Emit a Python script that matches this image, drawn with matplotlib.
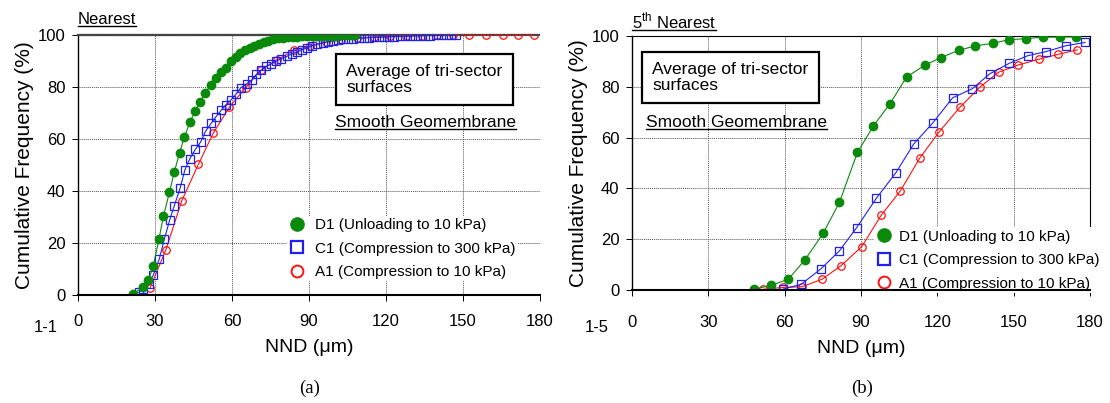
import matplotlib.pyplot as plt
from matplotlib.lines import Line2D

plt.rcParams['font.family'] = ['Liberation Sans', 'DejaVu Sans']
plt.rcParams['mathtext.fontset'] = 'custom'
plt.rcParams['mathtext.rm'] = 'Liberation Sans'

GREEN = '#0a8a0a'
BLUE = '#2020ee'
RED = '#ff1010'

# ---- panel (a): nearest neighbour distance ----
d1a_x = [21.3, 25.2, 27.4, 29.3, 31.5, 33.3, 35.6, 37.5, 39.6, 41.4, 43.6, 45.7, 47.6, 49.5, 51.7,
         53.6, 55.6, 57.5, 59.5, 61.4, 63.3, 65.2, 67.0, 68.7, 70.5, 72.3, 74.1, 76.0, 77.9, 79.8,
         81.7, 83.6, 85.5, 87.4, 89.3, 91.2, 93.1, 95.0, 96.9, 98.8, 100.7, 102.6, 104.5, 106.4, 108.0]
d1a_y = [0.4, 2.9, 5.6, 11.1, 21.4, 30.4, 39.5, 47.3, 54.8, 60.7, 66.5, 70.8, 74.4, 77.6, 80.9,
         83.5, 85.9, 87.2, 89.9, 91.6, 93.1, 94.1, 95.0, 95.7, 96.5, 97.2, 97.8, 98.4, 98.8, 99.0,
         99.2, 99.3, 99.4, 99.5, 99.5, 99.6, 99.6, 99.7, 99.7, 99.8, 99.8, 99.9, 99.9, 100.0, 100.0]

c1a_x = [23.6, 25.5, 27.5, 29.4, 31.7, 33.6, 35.7, 37.5, 39.8, 41.6, 43.6, 45.7, 47.8, 49.7, 52.0,
         53.7, 55.8, 57.6, 59.7, 61.5, 63.5, 65.7, 67.6, 69.5, 71.3, 73.2, 75.0, 77.1, 79.2, 81.3,
         83.4, 85.2, 87.3, 89.4, 91.1, 93.2, 95.3, 97.3, 99.4, 101.3, 103.3, 105.3, 107.3, 109.3, 111.3,
         113.3, 115.3, 117.3, 119.3, 121.3, 123.3, 125.3, 127.3, 129.3, 131.3, 133.3, 135.3, 137.3, 139.3, 141.3,
         143.3, 145.3, 147.3]
c1a_y = [1.0, 2.2, 4.4, 7.8, 14.0, 21.4, 28.8, 34.3, 41.2, 48.0, 52.5, 56.0, 58.9, 63.0, 66.2,
         68.5, 71.1, 73.2, 75.2, 77.2, 79.8, 81.3, 82.6, 84.9, 86.4, 88.0, 88.7, 89.9, 90.9, 91.8,
         92.8, 93.5, 94.4, 95.1, 95.8, 96.5, 97.0, 97.4, 97.8, 98.0, 98.3, 98.5, 98.6, 98.8, 98.9,
         99.0, 99.1, 99.2, 99.2, 99.3, 99.4, 99.5, 99.5, 99.6, 99.7, 99.7, 99.8, 99.8, 99.9, 99.9,
         100.0, 100.0, 100.0]

a1a_x = [28.0, 34.2, 40.4, 46.9, 52.7, 59.0, 65.3, 71.1, 77.5, 84.1, 90.4, 96.7, 102.6, 108.8, 115.2,
         121.5, 127.8, 133.9, 139.9, 146.2, 152.4, 159.0, 165.4, 171.5, 177.5]
a1a_y = [2.6, 17.3, 36.2, 50.3, 62.3, 72.3, 79.8, 86.4, 90.5, 94.1, 95.8, 97.3, 98.2, 98.8, 99.2,
         99.5, 99.7, 99.8, 99.9, 99.95, 100.0, 100.0, 100.0, 100.0, 100.0]

# ---- panel (b): 5th nearest ----
d1b_x = [48.0, 54.5, 61.4, 67.9, 75.1, 81.5, 88.6, 94.9, 101.4, 107.9, 115.0, 121.3, 128.4, 134.7, 141.8,
         148.3, 154.7, 161.7, 168.1, 174.4]
d1b_y = [0.3, 1.8, 4.2, 11.8, 22.3, 34.5, 54.2, 64.7, 73.4, 83.9, 88.5, 91.5, 94.4, 96.1, 97.2,
         98.6, 99.0, 99.6, 99.6, 99.7]

c1b_x = [59.2, 66.4, 74.2, 81.5, 88.3, 96.0, 103.7, 110.7, 118.2, 126.0, 133.8, 140.5, 148.3, 155.6, 162.7,
         170.5, 178.0]
c1b_y = [0.3, 2.2, 8.3, 15.4, 24.6, 36.1, 46.2, 57.5, 65.8, 75.7, 79.3, 85.1, 89.3, 92.3, 93.9,
         96.2, 97.5]

a1b_x = [51.6, 59.2, 66.9, 74.6, 82.2, 90.3, 97.9, 105.5, 113.1, 120.8, 128.8, 136.6, 144.1, 151.7, 159.9,
         167.4, 175.0]
a1b_y = [0.3, 1.0, 1.3, 4.2, 9.6, 17.1, 29.4, 39.1, 52.0, 62.4, 71.9, 79.8, 85.8, 88.6, 90.9,
         92.8, 94.6]

labels = ['D1 (Unloading to 10 kPa)', 'C1 (Compression to 300 kPa)', 'A1 (Compression to 10 kPa)']
x_ticks = [0, 30, 60, 90, 120, 150, 180]
y_ticks = [0, 20, 40, 60, 80, 100]

fig = plt.figure(figsize=(11.1, 4.03), dpi=100)
ax1 = fig.add_axes([0.0703, 0.268, 0.4162, 0.645])
ax2 = fig.add_axes([0.5694, 0.2804, 0.4126, 0.630])


def draw(ax, xa, ya, xc, yc, xd, yd):
    ax.plot(xa, ya, color=RED, lw=0.8, marker='o', ms=5.4, mfc='none', mec=RED, mew=0.9, zorder=3)
    ax.plot(xc, yc, color=BLUE, lw=0.8, marker='s', ms=5.2, mfc='none', mec=BLUE, mew=0.9, zorder=4)
    ax.plot(xd, yd, color=GREEN, lw=0.8, marker='o', ms=6.0, mfc=GREEN, mec=GREEN, zorder=5)


def frame(ax, xpad):
    ax.set_xlim(0, 180)
    ax.set_ylim(0, 100)
    ax.set_xticks(x_ticks)
    ax.set_yticks(y_ticks)
    for v in x_ticks[1:-1]:
        ax.axvline(v, color='#555555', lw=0.7, ls=(0, (1, 1)), zorder=1)
    for v in y_ticks[1:-1]:
        ax.axhline(v, color='#555555', lw=0.7, ls=(0, (1, 1)), zorder=1)
    ax.tick_params(direction='out', length=4, width=0.7, labelsize=12, color='black')
    ax.tick_params(axis='x', pad=xpad)
    ax.tick_params(axis='y', pad=5)
    ax.spines['left'].set_linewidth(1.0)
    ax.spines['bottom'].set_linewidth(1.5)
    ax.spines['bottom'].set_zorder(7)
    ax.set_xlabel('NND (\u03bcm)', fontsize=14, labelpad=7)
    ax.set_ylabel('Cumulative Frequency (%)', fontsize=15, labelpad=3)


def legend(ax, x0, yc, tpad):
    handles = [
        Line2D([], [], ls='none', marker='o', ms=9.5, mfc=GREEN, mec=GREEN),
        Line2D([], [], ls='none', marker='s', ms=8.5, mfc='none', mec=BLUE, mew=1.6),
        Line2D([], [], ls='none', marker='o', ms=8.5, mfc='none', mec=RED, mew=1.4),
    ]
    leg = ax.legend(handles, labels, loc='center left', bbox_to_anchor=(x0, yc), fontsize=11,
                    frameon=True, handlelength=1.0, handletextpad=tpad, labelspacing=0.62,
                    borderpad=0.15, borderaxespad=0)
    leg.get_frame().set_facecolor('white')
    leg.get_frame().set_edgecolor('none')
    leg.get_frame().set_alpha(1.0)
    leg.set_zorder(6)


draw(ax1, a1a_x, a1a_y, c1a_x, c1a_y, d1a_x, d1a_y)
frame(ax1, 10)
ax1.spines['right'].set_visible(False)
ax1.spines['top'].set_color('#444444')
ax1.spines['top'].set_linestyle((0, (1, 0.6)))
ax1.spines['top'].set_linewidth(1.6)
legend(ax1, 0.452, 0.178, 0.7)

draw(ax2, a1b_x, a1b_y, c1b_x, c1b_y, d1b_x, d1b_y)
frame(ax2, 14)
ax2.spines['right'].set_bounds(23.5, 100)
legend(ax2, 0.528, 0.118, 0.5)

# text boxes
box = dict(boxstyle='square,pad=0.6', fc='white', ec='black', lw=1.6)
ax1.text(104.5, 82.8, 'Average of tri-sector\nsurfaces', fontsize=12.5, ha='left', va='center',
         linespacing=1.05, bbox=box, zorder=6)
ax2.text(8.0, 83.7, 'Average of tri-sector\nsurfaces', fontsize=12.5, ha='left', va='center',
         linespacing=1.05, bbox=box, zorder=6)

under = []
under.append(ax1.text(170.5, 66.2, 'Smooth Geomembrane', fontsize=12.5, ha='right', va='center'))
under.append(ax2.text(5.5, 65.9, 'Smooth Geomembrane', fontsize=12.5, ha='left', va='center'))
under.append(ax1.text(0, 106, 'Nearest', fontsize=12, ha='left', va='center'))
under.append(ax2.text(0, 106, r'5$^{\mathrm{th}}$ Nearest', fontsize=12, ha='left', va='center'))

fig.text(0.041, 1 - 327 / 403, '1-1', fontsize=12, ha='center', va='center')
fig.text(0.5375, 1 - 327 / 403, '1-5', fontsize=12, ha='center', va='center')
fig.text(0.279, 1 - 388 / 403, '(a)', fontsize=13.5, family='Liberation Serif', ha='center', va='center')
fig.text(0.7765, 1 - 388 / 403, '(b)', fontsize=13.5, family='Liberation Serif', ha='center', va='center')

# underline the titles
fig.canvas.draw()
inv = fig.transFigure.inverted()
for t in under:
    bb = t.get_window_extent()
    (x0, y0), (x1, _) = inv.transform([(bb.x0, bb.y0 + 1), (bb.x1, bb.y0)])
    fig.add_artist(Line2D([x0, x1], [y0, y0], color='black', lw=1.0))

fig.savefig('out.png', dpi=100)
